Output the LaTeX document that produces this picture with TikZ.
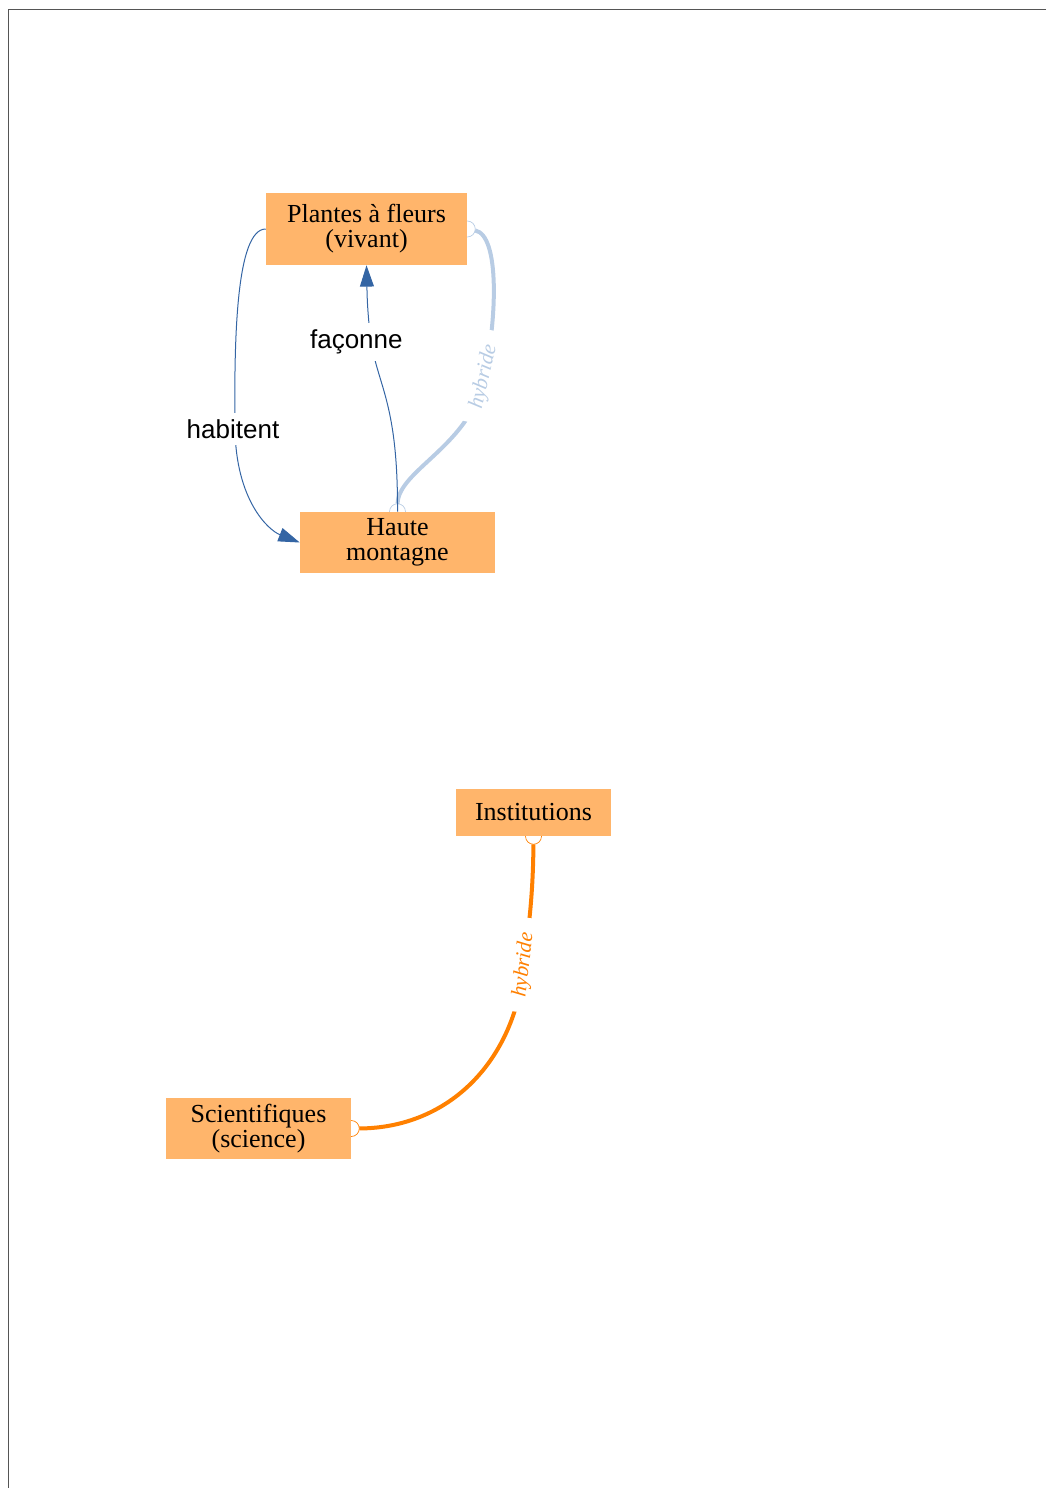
\documentclass[tikz,border=0pt]{standalone}
\usepackage{fontspec}
\setmainfont{Liberation Serif}
\newfontfamily\lblfont{Liberation Sans}
\usetikzlibrary{arrows.meta}
\pgfdeclarelayer{bg}
\pgfsetlayers{bg,main}
\definecolor{boxfill}{RGB}{255,181,107}
\definecolor{linkblue}{RGB}{52,101,164}
\definecolor{hyblue}{RGB}{184,204,228}
\definecolor{hyorange}{RGB}{255,128,0}
\definecolor{framegray}{RGB}{85,85,85}
\tikzset{
  concept/.style={fill=boxfill, draw=none, align=center, inner sep=0pt, font=\fontsize{19.5}{18.75}\selectfont},
  rel/.style={draw=linkblue, line width=0.75pt, -{Triangle[length=16pt,width=10.5pt]}},
  rellbl/.style={fill=white, inner sep=5pt, font=\lblfont\fontsize{19.5}{22}\selectfont, text=black},
  hyb/.style={line width=3pt},
  hyblbl/.style={pos=1, fill=white, sloped, inner xsep=11pt, inner ysep=2pt, font=\itshape\fontsize{16}{17}\selectfont},
  endring/.style={fill=white, line width=0.5pt},
}
\begin{document}
\begin{tikzpicture}[x=0.75pt, y=-0.75pt]
\useasboundingbox (0,0) rectangle (1046,1488);
\draw[framegray, line width=0.75pt] (1046,10) -- (8,10) -- (8,1488);

\node[concept, minimum width=150.75pt, minimum height=54pt] (plantes) at (366.5,229) {Plantes à fleurs\\(vivant)};
\node[concept, minimum width=146.25pt, minimum height=45.75pt] (haute) at (397.5,542.5) {Haute\\montagne};
\node[concept, minimum width=116.25pt, minimum height=35.25pt] (inst) at (533.5,812.5) {Institutions};
\node[concept, minimum width=138.75pt, minimum height=45.75pt] (sci) at (258.5,1128.5) {Scientifiques\\(science)};

\begin{pgfonlayer}{bg}
\draw[endring, draw=hyblue] (plantes.east) circle[radius=6pt];
\draw[endring, draw=hyblue] (haute.north) circle[radius=6pt];
\draw[endring, draw=hyorange] (inst.south) circle[radius=6pt];
\draw[endring, draw=hyorange] (sci.east) circle[radius=6pt];

\draw[hyb, draw=hyblue, shorten <=6pt, shorten >=6pt] (plantes.east) .. controls (500,235) and (497,320) .. (484,377) node[hyblbl, text=hyblue] {hybride} .. controls (472,445) and (398,470) .. (haute.north);

\draw[hyb, draw=hyorange, shorten <=6pt, shorten >=6pt] (inst.south) .. controls (533,900) and (528,930) .. (524,965) node[hyblbl, text=hyorange] {hybride} .. controls (515,1060) and (450,1128) .. (sci.east);

\draw[rel] (plantes.west) .. controls (236,229) and (234,340) .. (235,429) node[rellbl, xshift=-1.5pt] {habitent} .. controls (236,500) and (268,530) .. (haute.west);

\draw[rel] (haute.north) .. controls (398,405) and (379,388) .. (371,342) node[rellbl, xshift=-11pt] {façonne} .. controls (367,310) and (367,290) .. (plantes.south);
\end{pgfonlayer}
\end{tikzpicture}
\end{document}
